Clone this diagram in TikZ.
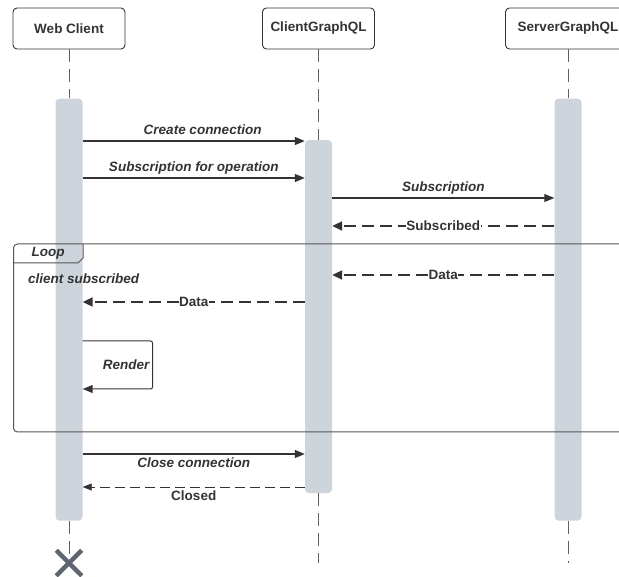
\documentclass[tikz,border=0pt]{standalone}
\usepackage{fontspec}
\setmainfont{Liberation Sans}
\usetikzlibrary{shapes,shapes.misc,arrows.meta,positioning,calc}

\definecolor{inkc}{HTML}{333333}
\definecolor{actc}{HTML}{CED4DC}
\definecolor{lifec}{HTML}{5F5F5F}
\definecolor{framec}{HTML}{555555}
\definecolor{endc}{HTML}{5E6470}

\tikzset{
  head/.style={draw=inkc, line width=0.9pt, rounded corners=4pt, minimum height=41pt, minimum width=112pt, inner sep=2pt, font=\fontsize{13.5}{16}\selectfont\bfseries, text=inkc},
  actbar/.style={fill=actc, rounded corners=4pt, minimum width=27pt, inner sep=0pt},
  life/.style={draw=lifec, line width=0.9pt, dash pattern=on 13pt off 7pt},
  msg/.style={draw=inkc, line width=1.2pt, -{Triangle[length=10pt,width=8pt]}},
  retmsg/.style={draw=inkc, line width=2pt, dash pattern=on 12pt off 6pt, -{Triangle[length=10pt,width=9pt]}},
  closemsg/.style={draw=inkc, line width=0.9pt, dash pattern=on 10pt off 5pt, -{Triangle[length=9pt,width=7pt]}},
  selfmsg/.style={draw=inkc, line width=1pt, rounded corners=2pt, -{Triangle[length=10pt,width=8pt]}},
  lbl/.style={font=\fontsize{13.5}{16}\selectfont\bfseries\itshape, text=inkc},
  onlbl/.style={font=\fontsize{13.5}{16}\selectfont\bfseries, text=inkc, fill=white, inner sep=0.5pt},
  framel/.style={draw=framec, line width=1pt},
}

\begin{document}
\begin{tikzpicture}[x=1pt, y=-1pt]
\useasboundingbox (0,0) rectangle (619,577);
\clip (0,0) rectangle (619,577);

% lifeline heads
\node[head] (wc) at (69,28.5) {Web Client};
\node[head] (cg) at (318.5,28.5) {ClientGraphQL};
\node[head, minimum width=125pt] (sg) at (568,28.5) {ServerGraphQL};

% activation bars
\node[actbar, minimum height=422pt, below=49pt of wc] (wcact) {};
\node[actbar, minimum height=353pt, below=90.5pt of cg] (cgact) {};
\node[actbar, minimum height=422pt, below=49pt of sg] (sgact) {};

% end of web client
\coordinate (wcstop) at (69,563);

% lifelines
\draw[life] (wc.south) -- (wcact.north);
\draw[life] (wcact.south) -- (wcstop);
\draw[life] (cg.south) -- (cgact.north);
\draw[life] (cgact.south) -- (cg |- wcstop);
\draw[life] (sg.south) -- (sgact.north);
\draw[life] (sgact.south) -- (sg |- wcstop);
\node[cross out, draw=endc, line width=4.5pt, minimum size=21pt, inner sep=0pt] (wcend) at (wcstop) {};

% message rows
\coordinate (r1) at (0,141);
\coordinate (r2) at (0,178);
\coordinate (r3) at (0,198);
\coordinate (r4) at (0,226);
\coordinate (r5) at (0,275);
\coordinate (r6) at (0,302);
\coordinate (r7) at (0,454);
\coordinate (r8) at (0,487);

\draw[msg] (wcact.east |- r1) -- (cgact.west |- r1) node[lbl, pos=0.54, above, inner sep=3pt, yshift=3pt] (m1) {Create connection};
\draw[msg] (wcact.east |- r2) -- (cgact.west |- r2) node[lbl, midway, above, inner sep=3pt] (m2) {Subscription for operation};
\draw[msg] (cgact.east |- r3) -- (sgact.west |- r3) node[lbl, midway, above, inner sep=3pt] (m3) {Subscription};
\draw[retmsg] (sgact.west |- r4) -- (cgact.east |- r4) node[onlbl, midway] (m4) {Subscribed};

% loop frame
\draw[framel, rounded corners=4pt] (13.5,244) rectangle (650,432);
\draw[framel] (13.5,263) -- (78,263) -- (83,258) -- (83,244);
\node[lbl] (looptag) at (48,253) {Loop};
\node[lbl, anchor=west, inner sep=0pt] (guard) at (28,279) {client subscribed};

\draw[retmsg] (sgact.west |- r5) -- (cgact.east |- r5) node[onlbl, midway] (m5) {Data};
\draw[retmsg] (cgact.west |- r6) -- (wcact.east |- r6) node[onlbl, midway] (m6) {Data};

% self call
\coordinate (rtop) at (152.5,341);
\coordinate (rbot) at (152.5,389);
\draw[selfmsg] (wcact.east |- rtop) -- (rtop) -- (rbot) -- (wcact.east |- rbot);
\node[lbl, anchor=east, inner sep=3pt] (m7) at ($(rtop)!0.5!(rbot)$) {Render};

% closing
\draw[msg] (wcact.east |- r7) -- (cgact.west |- r7) node[lbl, midway, below, inner sep=3pt] (m8) {Close connection};
\draw[closemsg] (cgact.west |- r8) -- (wcact.east |- r8) node[midway, below, inner sep=3pt, font=\fontsize{13.5}{16}\selectfont\bfseries, text=inkc] (m9) {Closed};
\end{tikzpicture}
\end{document}
